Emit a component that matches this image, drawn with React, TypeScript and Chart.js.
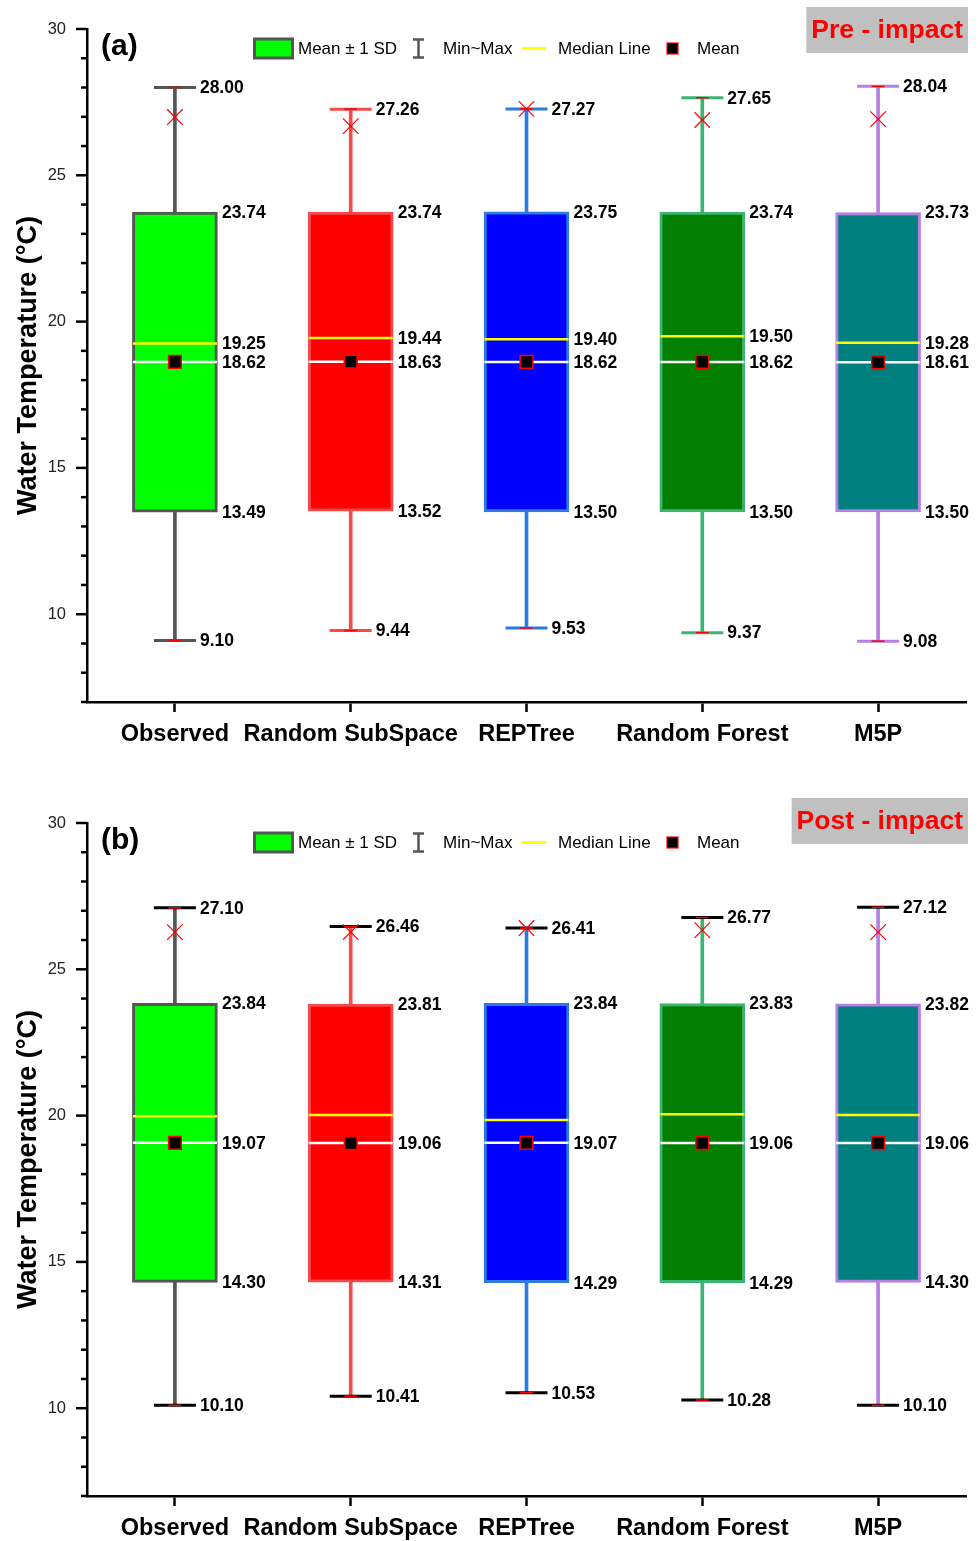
import React, { useEffect, useRef } from 'react';
import { Chart, registerables } from 'chart.js';

Chart.register(...registerables);

// ---------- data ----------
const categories = ['Observed', 'Random SubSpace', 'REPTree', 'Random Forest', 'M5P'];
const yMajorTicks = [10, 15, 20, 25, 30];

const preMin = [9.10, 9.44, 9.53, 9.37, 9.08];
const preMax = [28.00, 27.26, 27.27, 27.65, 28.04];
const preSdLow = [13.49, 13.52, 13.50, 13.50, 13.50];
const preSdHigh = [23.74, 23.74, 23.75, 23.74, 23.73];
const preMean = [18.62, 18.63, 18.62, 18.62, 18.61];
const preMedian = [19.25, 19.44, 19.40, 19.50, 19.28];
const preP99 = [26.99, 26.68, 27.27, 26.89, 26.92];

const postMin = [10.10, 10.41, 10.53, 10.28, 10.10];
const postMax = [27.10, 26.46, 26.41, 26.77, 27.12];
const postSdLow = [14.30, 14.31, 14.29, 14.29, 14.30];
const postSdHigh = [23.84, 23.81, 23.84, 23.83, 23.82];
const postMean = [19.07, 19.06, 19.07, 19.06, 19.06];
const postMedian = [19.98, 20.02, 19.85, 20.05, 20.02];
const postP99 = [26.27, 26.27, 26.41, 26.34, 26.27];

// ---------- styles ----------
const FONT = '"Liberation Sans", Arial, Helvetica, sans-serif';
const boxFills = ['#00ff00', '#ff0000', '#0000ff', '#007f00', '#007f7f'];
const boxBorders = ['#555555', '#f34b4b', '#2c7be2', '#3cb572', '#b67fe3'];
const W = 978;
const H = 747;
const AXIS_LEFT = 87;

type Panel = {
  tag: string;
  title: string;
  titleTop: number;
  min: number[];
  max: number[];
  sdLow: number[];
  sdHigh: number[];
  mean: number[];
  median: number[];
  p99: number[];
  capColors: string[];
  labelMedian: boolean;
};

const panels: Panel[] = [
  {
    tag: '(a)', title: 'Pre - impact', titleTop: 7,
    min: preMin, max: preMax, sdLow: preSdLow, sdHigh: preSdHigh,
    mean: preMean, median: preMedian, p99: preP99,
    capColors: boxBorders, labelMedian: true,
  },
  {
    tag: '(b)', title: 'Post - impact', titleTop: 4,
    min: postMin, max: postMax, sdLow: postSdLow, sdHigh: postSdHigh,
    mean: postMean, median: postMedian, p99: postP99,
    capColors: ['#000000', '#000000', '#000000', '#000000', '#000000'],
    labelMedian: false,
  },
];

function pointSet(data: number[], style: string, radius: number, border: string | string[], width: number, bg: string | string[], order: number) {
  return {
    type: 'line' as const,
    data,
    showLine: false,
    clip: false,
    pointStyle: style,
    pointRadius: radius,
    pointHoverRadius: radius,
    pointBorderWidth: width,
    pointBorderColor: border,
    pointBackgroundColor: bg,
    order,
  };
}

function zeroPad(s: any) {
  s.paddingTop = 0;
  s.paddingBottom = 0;
  s.paddingLeft = 0;
  s.paddingRight = 0;
}

function makeConfig(p: Panel): any {
  const decor = {
    id: 'decor',
    afterDatasetsDraw(chart: any) {
      const { ctx, scales } = chart;
      const xs = scales.x;
      const ys = scales.y;
      ctx.save();
      ctx.fillStyle = '#000';
      ctx.font = `bold 17.5px ${FONT}`;
      ctx.textAlign = 'left';
      ctx.textBaseline = 'middle';
      categories.forEach((_, i) => {
        const x = xs.getPixelForValue(i);
        const put = (v: number, dx: number) => ctx.fillText(v.toFixed(2), x + dx, ys.getPixelForValue(v) + 1);
        put(p.max[i], 25);
        put(p.min[i], 25);
        put(p.sdHigh[i], 47);
        put(p.sdLow[i], 47);
        put(p.mean[i], 47);
        if (p.labelMedian) put(p.median[i], 47);
      });
      ctx.restore();
    },
    afterDraw(chart: any) {
      const { ctx, scales } = chart;
      const ys = scales.y;
      ctx.save();
      // y tick marks (major longer than minor)
      ctx.strokeStyle = '#000';
      ctx.lineWidth = 2.5;
      for (let v = ys.min; v <= ys.max; v += 1) {
        const y = ys.getPixelForValue(v);
        const len = yMajorTicks.includes(v) ? 11 : 6;
        ctx.beginPath();
        ctx.moveTo(AXIS_LEFT - len, y);
        ctx.lineTo(AXIS_LEFT, y);
        ctx.stroke();
      }
      // panel tag
      ctx.fillStyle = '#000';
      ctx.font = `bold 30px ${FONT}`;
      ctx.textAlign = 'left';
      ctx.textBaseline = 'middle';
      ctx.fillText(p.tag, 101, 47);
      // title box
      ctx.font = `bold 26.5px ${FONT}`;
      const tw = ctx.measureText(p.title).width;
      const bw = tw + 10;
      const bx = 968 - bw;
      ctx.fillStyle = '#c0c0c0';
      ctx.fillRect(bx, p.titleTop, bw, 46);
      ctx.fillStyle = '#ff0000';
      ctx.textAlign = 'center';
      ctx.fillText(p.title, bx + bw / 2, p.titleTop + 24);
      // legend
      const ly = 48.5;
      ctx.font = `17px ${FONT}`;
      ctx.textAlign = 'left';
      ctx.fillStyle = '#00ff00';
      ctx.fillRect(254.5, ly - 9.5, 38, 19);
      ctx.strokeStyle = '#555555';
      ctx.lineWidth = 3;
      ctx.strokeRect(254.5, ly - 9.5, 38, 19);
      ctx.fillStyle = '#000';
      ctx.fillText('Mean \u00b1 1 SD', 298, ly + 1);
      // I-beam
      ctx.strokeStyle = '#555555';
      ctx.lineWidth = 2.5;
      ctx.beginPath();
      ctx.moveTo(418.5, ly - 9); ctx.lineTo(418.5, ly + 9);
      ctx.moveTo(413, ly - 9); ctx.lineTo(424, ly - 9);
      ctx.moveTo(413, ly + 9); ctx.lineTo(424, ly + 9);
      ctx.stroke();
      ctx.fillText('Min~Max', 443, ly + 1);
      // median line
      ctx.strokeStyle = '#ffff00';
      ctx.lineWidth = 3;
      ctx.beginPath();
      ctx.moveTo(522, ly); ctx.lineTo(546, ly);
      ctx.stroke();
      ctx.fillText('Median Line', 558, ly + 1);
      // mean marker
      ctx.fillStyle = '#000';
      ctx.fillRect(667, ly - 5.5, 11, 11);
      ctx.strokeStyle = '#ff0000';
      ctx.lineWidth = 1.2;
      ctx.strokeRect(667, ly - 5.5, 11, 11);
      ctx.fillText('Mean', 697, ly + 1);
      ctx.restore();
    },
  };

  return {
    type: 'bar',
    data: {
      labels: categories,
      datasets: [
        {
          type: 'bar',
          label: 'Min~Max',
          data: p.min.map((v, i) => [v, p.max[i]]),
          backgroundColor: boxBorders,
          borderWidth: 0,
          barThickness: 3,
          grouped: false,
          order: 20,
        },
        {
          type: 'bar',
          label: 'Mean \u00b1 1 SD',
          data: p.sdLow.map((v, i) => [v, p.sdHigh[i]]),
          backgroundColor: boxFills,
          borderColor: boxBorders,
          borderWidth: 3,
          borderSkipped: false,
          barThickness: 85,
          grouped: false,
          order: 19,
        },
        pointSet(p.max, 'line', 21, p.capColors, 3, p.capColors, 10),
        pointSet(p.min, 'line', 21, p.capColors, 3, p.capColors, 10),
        pointSet(p.max, 'line', 6.5, '#ff0000', 1.5, '#ff0000', 9),
        pointSet(p.min, 'line', 6.5, '#ff0000', 1.5, '#ff0000', 9),
        pointSet(p.median, 'line', 42, '#ffff00', 2.5, '#ffff00', 8),
        pointSet(p.mean, 'line', 42, '#ffffff', 2.5, '#ffffff', 7),
        pointSet(p.p99, 'crossRot', 11, '#ff0000', 1.2, '#ff0000', 6),
        pointSet(p.mean, 'rect', 9, '#ff0000', 1.5, '#000000', 1),
      ],
    },
    options: {
      responsive: false,
      devicePixelRatio: 1,
      animation: false,
      events: [],
      layout: { autoPadding: false, padding: { top: 29, right: 12, left: 0, bottom: 0 } },
      plugins: { legend: { display: false }, tooltip: { enabled: false } },
      scales: {
        x: {
          type: 'category',
          offset: true,
          grid: {
            display: true,
            drawOnChartArea: false,
            drawTicks: true,
            tickLength: 10,
            tickWidth: 2.5,
            tickColor: '#000',
            offset: false,
          },
          border: { display: true, color: '#000', width: 2.5 },
          ticks: {
            color: '#000',
            font: { family: FONT, size: 23.5, weight: 'bold' },
            padding: 8,
            autoSkip: false,
            maxRotation: 0,
          },
          afterFit: (s: any) => { s.height = 45; zeroPad(s); },
        },
        y: {
          type: 'linear',
          min: 7,
          max: 30,
          grid: { display: false, drawTicks: false },
          border: { display: true, color: '#000', width: 2.5 },
          ticks: {
            stepSize: 1,
            autoSkip: false,
            padding: 21,
            color: '#222',
            font: { family: FONT, size: 16.5 },
            callback: (v: number) => (yMajorTicks.includes(v) ? String(v) : ''),
          },
          title: {
            display: true,
            text: 'Water Temperature (\u00b0C)',
            color: '#000',
            font: { family: FONT, size: 27, weight: 'bold' },
            padding: { top: 12, bottom: 0 },
          },
          afterFit: (s: any) => { s.width = AXIS_LEFT; zeroPad(s); },
        },
      },
    },
    plugins: [decor],
  };
}

function PanelChart({ panel, top }: { panel: Panel; top: number }) {
  const ref = useRef<HTMLCanvasElement>(null);
  useEffect(() => {
    const chart = new Chart(ref.current as HTMLCanvasElement, makeConfig(panel));
    return () => chart.destroy();
  }, [panel]);
  return (
    <div style={{ position: 'absolute', left: 0, top, width: W, height: H }}>
      <canvas ref={ref} width={W} height={H} style={{ width: W, height: H, display: 'block' }} />
    </div>
  );
}

export default function App() {
  return (
    <div style={{ position: 'absolute', left: 0, top: 0, width: W, height: 1541, background: '#fff', overflow: 'hidden' }}>
      <PanelChart panel={panels[0]} top={0} />
      <PanelChart panel={panels[1]} top={794} />
    </div>
  );
}
